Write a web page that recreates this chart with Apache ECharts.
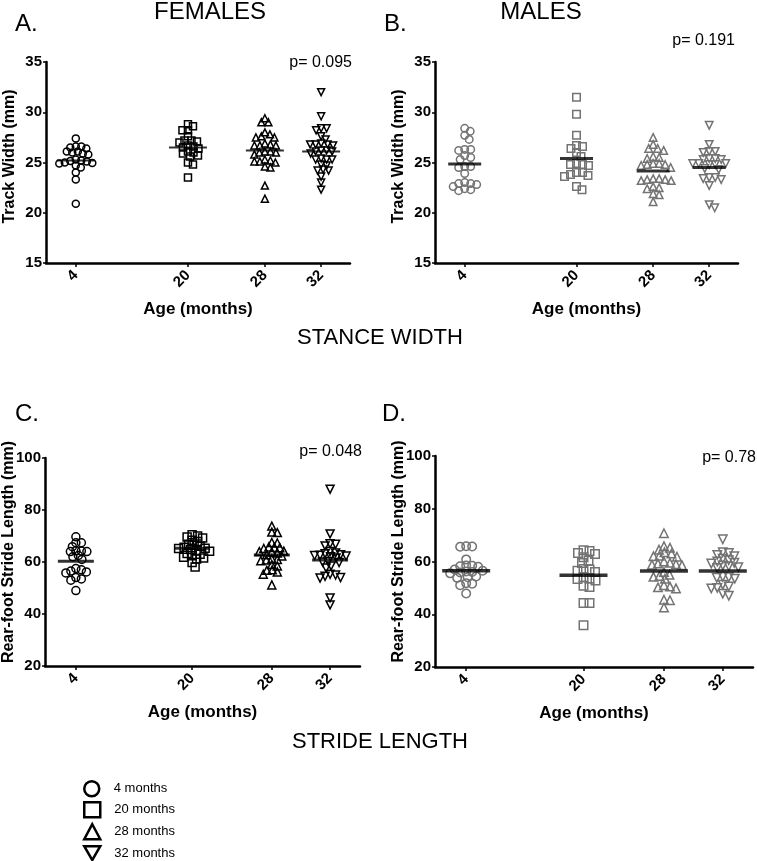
<!DOCTYPE html>
<html>
<head>
<meta charset="utf-8">
<script src="https://cdn.jsdelivr.net/npm/echarts@6/dist/echarts.min.js"></script>
<style>
  html, body { margin: 0; padding: 0; background: #fff; }
  #chart { width: 757px; height: 861px; }
</style>
</head>
<body>
<div id="chart"></div>
<script>
var FONT = '"Liberation Sans", Arial, sans-serif';

var ages = ['4', '20', '28', '32'];
var groupNames = ['4 months', '20 months', '28 months', '32 months'];
// where each age sits on the 0..1 x axis (spacing is not linear in the figure)
var agePos = [0.098, 0.467, 0.72, 0.905];

// A. females - track width (mm)
var fTrack4 = [27.4, 26.6, 26.4, 26.5, 26.6, 26.1, 25.9, 26.0, 25.8, 26.1, 25.2, 25.1, 24.95, 25.15, 25.0, 25.3, 24.9, 24.7, 24.5, 24.0, 23.3, 20.9];
var fTrack20 = [28.8, 28.6, 28.2, 28.2, 27.6, 27.2, 27.1, 27.0, 27.2, 26.7, 26.5, 26.6, 26.4, 26.1, 25.9, 25.6, 25.7, 26.0, 25.0, 24.8, 23.5];
var fTrack28 = [29.4, 29.0, 29.0, 27.8, 27.5, 27.5, 27.6, 28.0, 26.9, 26.7, 26.7, 26.8, 26.7, 26.1, 26.0, 26.0, 26.1, 25.8, 25.2, 25.1, 25.1, 25.0, 25.3, 24.6, 24.5, 22.7, 21.4];
var fTrack32 = [32.0, 29.6, 28.4, 28.2, 28.4, 27.6, 27.3, 26.8, 26.7, 26.8, 26.9, 26.8, 26.1, 26.2, 26.1, 26.2, 25.9, 25.3, 25.4, 25.3, 25.3, 24.8, 24.7, 24.2, 24.2, 24.3, 23.6, 23.0, 22.3];
var fTrackMean = [25.2, 26.5, 26.2, 26.1];

// B. males - track width (mm)
var mTrack4 = [28.4, 28.1, 27.7, 27.3, 26.3, 26.2, 26.3, 25.5, 25.3, 25.7, 24.6, 24.6, 24.5, 23.9, 22.9, 22.8, 23.0, 22.9, 22.4, 22.3, 22.2, 22.6];
var mTrack20 = [31.5, 29.8, 27.7, 26.6, 26.7, 26.4, 26.0, 25.6, 24.8, 24.7, 24.8, 24.9, 24.0, 23.7, 23.6, 23.8, 24.0, 22.3, 22.6];
var mTrack28 = [27.5, 26.8, 26.4, 26.4, 26.2, 25.6, 25.4, 25.5, 24.9, 24.8, 24.7, 24.8, 24.9, 24.5, 23.4, 23.3, 23.2, 23.3, 23.4, 23.2, 22.5, 22.6, 22.4, 21.8, 21.9, 21.1];
var mTrack32 = [28.7, 26.8, 26.1, 26.0, 26.1, 25.4, 25.3, 25.4, 25.3, 24.9, 24.9, 24.8, 24.9, 24.8, 24.4, 24.3, 23.5, 23.4, 23.5, 23.3, 22.7, 20.5, 20.8];
var mTrackMean = [24.85, 25.4, 24.15, 24.5];

// C. females - rear-foot stride length (mm)
var fStride4 = [69.7, 67.4, 67.4, 65.9, 64.0, 64.2, 64.0, 64.3, 62.0, 62.5, 61.0, 57.0, 56.2, 55.8, 56.5, 57.5, 54.0, 53.0, 53.5, 49.0];
var fStride20 = [70.5, 70.0, 69.6, 69.2, 68.4, 67.9, 66.8, 66.4, 66.1, 65.7, 65.3, 65.2, 64.8, 64.4, 64.1, 63.3, 63.0, 62.4, 61.8, 61.5, 61.2, 59.8, 58.1];
var fStride28 = [73.8, 71.5, 71.3, 67.5, 67.3, 65.8, 65.5, 65.6, 65.2, 64.0, 63.8, 63.5, 64.2, 62.8, 62.3, 61.2, 60.8, 60.5, 61.0, 59.0, 58.5, 57.0, 56.2, 56.8, 55.3, 51.2];
var fStride32 = [88.0, 70.8, 66.8, 66.2, 67.0, 64.0, 63.5, 63.2, 62.8, 62.5, 62.0, 62.3, 62.6, 61.5, 60.0, 59.8, 60.2, 57.7, 58.5, 55.0, 54.0, 53.8, 54.5, 55.3, 46.2, 43.5];
var fStrideMean = [60.3, 65.3, 62.7, 60.8];

// D. males - rear-foot stride length (mm)
var mStride4 = [65.7, 65.8, 65.6, 60.8, 58.2, 58.5, 58.0, 58.4, 57.0, 56.0, 55.5, 56.2, 55.8, 56.5, 54.0, 53.8, 54.3, 51.6, 51.0, 51.8, 47.9];
var mStride20 = [64.3, 64.0, 63.2, 62.8, 61.6, 60.3, 59.4, 57.2, 56.0, 56.5, 57.0, 53.6, 52.8, 53.4, 54.0, 50.8, 50.3, 44.3, 44.3, 35.8];
var mStride28 = [70.7, 65.8, 65.2, 64.5, 63.5, 62.0, 63.0, 62.2, 61.8, 59.5, 59.0, 58.6, 59.2, 58.8, 60.0, 56.0, 55.0, 54.2, 53.5, 54.5, 51.0, 50.2, 49.8, 50.5, 45.5, 45.3, 42.6];
var mStride32 = [68.4, 63.5, 62.5, 62.0, 63.2, 60.5, 59.5, 59.2, 60.0, 61.0, 58.5, 57.8, 58.2, 57.5, 54.0, 53.5, 53.8, 54.2, 50.5, 50.0, 51.2, 49.8, 47.0, 47.8];
var mStrideMean = [56.5, 54.8, 56.4, 56.4];

var pLabels = ['p= 0.095', 'p= 0.191', 'p= 0.048', 'p= 0.78'];

var symbols = ['circle', 'rect', 'triangle', 'triangle'];
var rotations = [0, 0, 0, 180];
var DOWN_TRI = 'path://M0,0L20,0L10,17.3Z';

var panels = [
  { grid: { left: 46, top: 62, width: 304, height: 201 }, min: 15, max: 35, interval: 5,
    yName: 'Track Width (mm)', namePad: 12, groups: [fTrack4, fTrack20, fTrack28, fTrack32], means: fTrackMean,
    color: '#000', size: 7, pack: 0.75, bar: [38, 2] },
  { grid: { left: 435, top: 62, width: 303, height: 201 }, min: 15, max: 35, interval: 5,
    yName: 'Track Width (mm)', namePad: 12, groups: [mTrack4, mTrack20, mTrack28, mTrack32], means: mTrackMean,
    color: '#737373', size: 7.5, pack: 0.8, bar: [33, 3] },
  { grid: { left: 45, top: 458, width: 315, height: 208 }, min: 20, max: 100, interval: 20,
    yName: 'Rear-foot Stride Length (mm)', namePad: 20, groups: [fStride4, fStride20, fStride28, fStride32], means: fStrideMean,
    color: '#000', size: 8, pack: 0.65, bar: [36, 3] },
  { grid: { left: 435, top: 456, width: 318, height: 211 }, min: 20, max: 100, interval: 20,
    yName: 'Rear-foot Stride Length (mm)', namePad: 20, groups: [mStride4, mStride20, mStride28, mStride32], means: mStrideMean,
    color: '#737373', size: 8.5, pack: 0.7, bar: [48, 3.5] }
];

// simple beeswarm: nudge each point sideways until it stops overlapping
function swarm(values, center, pxX, pxY, d) {
  var placed = [];
  var sorted = values.slice().sort(function(a, b) { return b - a; });
  return sorted.map(function(v) {
    var y = v * pxY;
    var best = 0;
    for (var k = 0; k < 400; k++) {
      var off = (k % 2 ? 1 : -1) * Math.ceil(k / 2) * 0.5;
      var ok = placed.every(function(p) {
        var dx = p.x - off, dy = p.y - y;
        return dx * dx + dy * dy >= d * d;
      });
      if (ok) { best = off; break; }
    }
    placed.push({ x: best, y: y });
    return [center + best / pxX, v];
  });
}

function ageLabel(v) {
  var best = 0;
  agePos.forEach(function(p, i) {
    if (Math.abs(p - v) < Math.abs(agePos[best] - v)) best = i;
  });
  return ages[best];
}

var grids = [], xAxes = [], yAxes = [], series = [];

panels.forEach(function(pn, i) {
  grids.push(Object.assign({ outerBoundsMode: 'none', containLabel: false }, pn.grid));

  xAxes.push({
    type: 'value', gridIndex: i, min: 0, max: 1,
    axisLine: { show: true, onZero: false, lineStyle: { color: '#000', width: 2.5 } },
    axisTick: { show: true, customValues: agePos, length: 4, lineStyle: { color: '#000', width: 1.5 } },
    axisLabel: { customValues: agePos, rotate: 45, margin: 10, formatter: ageLabel,
      color: '#000', fontFamily: FONT, fontWeight: 'bold', fontSize: 15 },
    splitLine: { show: false },
    name: 'Age (months)', nameLocation: 'middle', nameGap: 38,
    nameTextStyle: { color: '#000', fontFamily: FONT, fontWeight: 'bold', fontSize: 17 }
  });

  yAxes.push({
    type: 'value', gridIndex: i, min: pn.min, max: pn.max, interval: pn.interval,
    axisLine: { show: true, lineStyle: { color: '#000', width: 2.5 } },
    axisTick: { show: true, length: 3, lineStyle: { color: '#000', width: 1.5 } },
    axisLabel: { margin: 4, color: '#000', fontFamily: FONT, fontWeight: 'bold', fontSize: 15 },
    splitLine: { show: false },
    name: pn.yName, nameLocation: 'middle', nameGap: 28, nameMoveOverlap: false,
    nameTextStyle: { color: '#000', fontFamily: FONT, fontWeight: 'bold', fontSize: 16,
      padding: [0, 0, 0, pn.namePad] }
  });

  var pxX = pn.grid.width;
  var pxY = pn.grid.height / (pn.max - pn.min);

  pn.groups.forEach(function(vals, g) {
    series.push({
      type: 'scatter', name: groupNames[g], xAxisIndex: i, yAxisIndex: i,
      symbol: symbols[g], symbolRotate: rotations[g], symbolSize: pn.size,
      itemStyle: { color: 'rgba(255,255,255,0)', borderColor: pn.color, borderWidth: 1.5, opacity: 1 },
      data: swarm(vals, agePos[g], pxX, pxY, pn.size * pn.pack),
      silent: true, z: 2
    });
  });

  series.push({
    type: 'scatter', xAxisIndex: i, yAxisIndex: i,
    symbol: 'rect', symbolSize: pn.bar,
    itemStyle: { color: '#000' },
    data: pn.means.map(function(m, g) { return [agePos[g], m]; }),
    silent: true, z: 3
  });
});

function txt(x, y, s, size, align) {
  return { type: 'text', x: x, y: y, silent: true,
    style: { text: s, fill: '#000', font: size + 'px ' + FONT, textAlign: align || 'left', textVerticalAlign: 'middle' } };
}

// one legend per row so the column never wraps at the bottom edge
var legendTops = [780, 801, 823, 845];
var legends = groupNames.map(function(n, g) {
  return {
    data: [g === 3 ? { name: n, icon: DOWN_TRI } : { name: n }],
    orient: 'vertical', left: 83, top: legendTops[g], padding: 0,
    itemWidth: 16, itemHeight: 15,
    itemStyle: { borderWidth: 2.5, borderColor: '#000', color: 'rgba(255,255,255,0)' },
    textStyle: { color: '#000', fontFamily: FONT, fontSize: 13, padding: [0, 0, 0, 9] },
    selectedMode: false
  };
});

var chart = echarts.init(document.getElementById('chart'));
chart.setOption({
  animation: false,
  backgroundColor: '#fff',
  grid: grids,
  xAxis: xAxes,
  yAxis: yAxes,
  series: series,
  legend: legends,
  graphic: [
    txt(210, 12, 'FEMALES', 24, 'center'),
    txt(541, 12, 'MALES', 24, 'center'),
    txt(15, 24, 'A.', 24),
    txt(384, 24, 'B.', 24),
    txt(15, 414, 'C.', 24),
    txt(382, 414, 'D.', 24),
    txt(352, 63, pLabels[0], 16, 'right'),
    txt(735, 41, pLabels[1], 16, 'right'),
    txt(362, 452, pLabels[2], 16, 'right'),
    txt(756, 458, pLabels[3], 16, 'right'),
    txt(380, 338, 'STANCE WIDTH', 22, 'center'),
    txt(380, 742, 'STRIDE LENGTH', 22, 'center')
  ]
});
</script>
</body>
</html>
